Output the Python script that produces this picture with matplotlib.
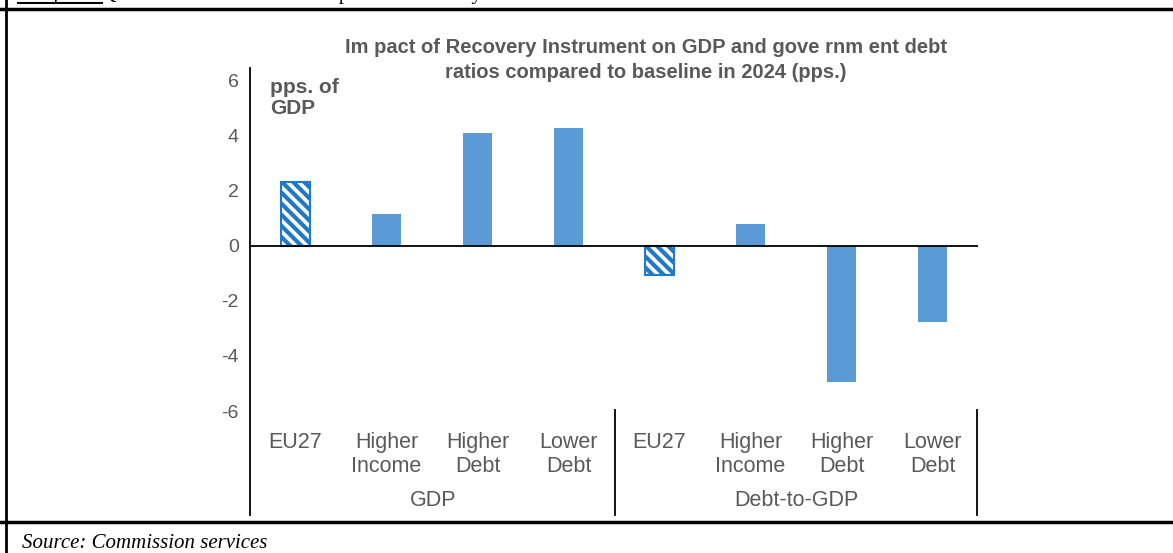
import matplotlib
matplotlib.use("Agg")
import matplotlib.pyplot as plt
from matplotlib.lines import Line2D

plt.rcParams['font.family'] = ['Liberation Sans', 'DejaVu Sans']
plt.rcParams['hatch.linewidth'] = 3.0
plt.rcParams['hatch.color'] = '#1f78c8'

categories = ["EU27", "Higher\nIncome", "Higher\nDebt", "Lower\nDebt",
              "EU27", "Higher\nIncome", "Higher\nDebt", "Lower\nDebt"]
groups = ["GDP", "Debt-to-GDP"]
values = [2.32, 1.14, 4.08, 4.26, -1.07, 0.77, -4.96, -2.76]
hatched = [True, False, False, False, True, False, False, False]
yticks = [-6, -4, -2, 0, 2, 4, 6]

title = "Im pact of Recovery Instrument on GDP and gove rnm ent debt\nratios compared to baseline in 2024 (pps.)"
unit = "pps. of\nGDP"
source = "Source: Commission services"
caption = "Graph 3: QUEST model results on impact of Recovery Instrument"

W, H = 1173, 553
fig = plt.figure(figsize=(W / 100, H / 100), dpi=100)

def fx(px):
    return px / W

def fy(py):
    return 1 - py / H

ax = fig.add_axes([fx(250), fy(411), fx(978) - fx(250), fy(68) - fy(411)])
ax.set_xlim(-0.5, len(values) - 0.5)
ax.set_ylim(-6, 6.45)

blue = '#5b9bd5'
for i, (v, h) in enumerate(zip(values, hatched)):
    if h:
        ax.bar(i, v, width=0.32, color='white', edgecolor='#1f78c8', hatch='\\\\\\', linewidth=1.5, zorder=2)
    else:
        ax.bar(i, v, width=0.32, color=blue, edgecolor='none', zorder=2)

ax.axhline(0, color='black', linewidth=1.3, zorder=3)
for s in ['top', 'right', 'bottom', 'left']:
    ax.spines[s].set_visible(False)
ax.set_xticks([])
ax.set_yticks(yticks)
ax.set_yticklabels([str(t) for t in yticks], fontsize=14, color='#595959')
ax.tick_params(axis='y', length=0, pad=8)

# category labels
for i, c in enumerate(categories):
    ax.text(i, -6.75, c, ha='center', va='top', fontsize=15.5, color='#595959',
            linespacing=1.2, transform=ax.transData, clip_on=False)
# group labels
fig.text(fx(433), fy(500), groups[0], ha='center', va='center', fontsize=15.5, color='#595959')
fig.text(fx(796), fy(500), groups[1], ha='center', va='center', fontsize=15.5, color='#595959')

# axis / separator lines
fig.add_artist(Line2D([fx(250), fx(250)], [fy(68), fy(515)], color='black', linewidth=1.3))
fig.add_artist(Line2D([fx(614.5), fx(614.5)], [fy(410), fy(515)], color='black', linewidth=1.3))
fig.add_artist(Line2D([fx(977), fx(977)], [fy(410), fy(515)], color='black', linewidth=1.3))

# title and unit
fig.text(fx(646), fy(60), title, ha='center', va='center', fontsize=14.5, color='#595959',
         fontweight='bold', linespacing=1.4)
fig.text(fx(270), fy(98), unit, ha='left', va='center', fontsize=15, color='#595959',
         fontweight='bold', linespacing=1.1)

# outer frame
fig.add_artist(Line2D([fx(0), fx(W)], [fy(9), fy(9)], color='black', linewidth=2.5))
fig.add_artist(Line2D([fx(0), fx(W)], [fy(522), fy(522)], color='black', linewidth=2.5))
fig.add_artist(Line2D([fx(6), fx(6)], [fy(0), fy(H)], color='black', linewidth=2.0))
fig.add_artist(Line2D([fx(18), fx(102)], [fy(2.5), fy(2.5)], color='black', linewidth=1.5))
fig.text(fx(22), fy(-1.5), caption, ha='left', va='baseline', fontsize=15,
         family=['Liberation Serif', 'DejaVu Serif'], color='black')

fig.text(fx(22), fy(543), source, ha='left', va='center', fontsize=15, style='italic',
         family=['Liberation Serif', 'DejaVu Serif'], color='black')

fig.savefig('out.png', dpi=100)
